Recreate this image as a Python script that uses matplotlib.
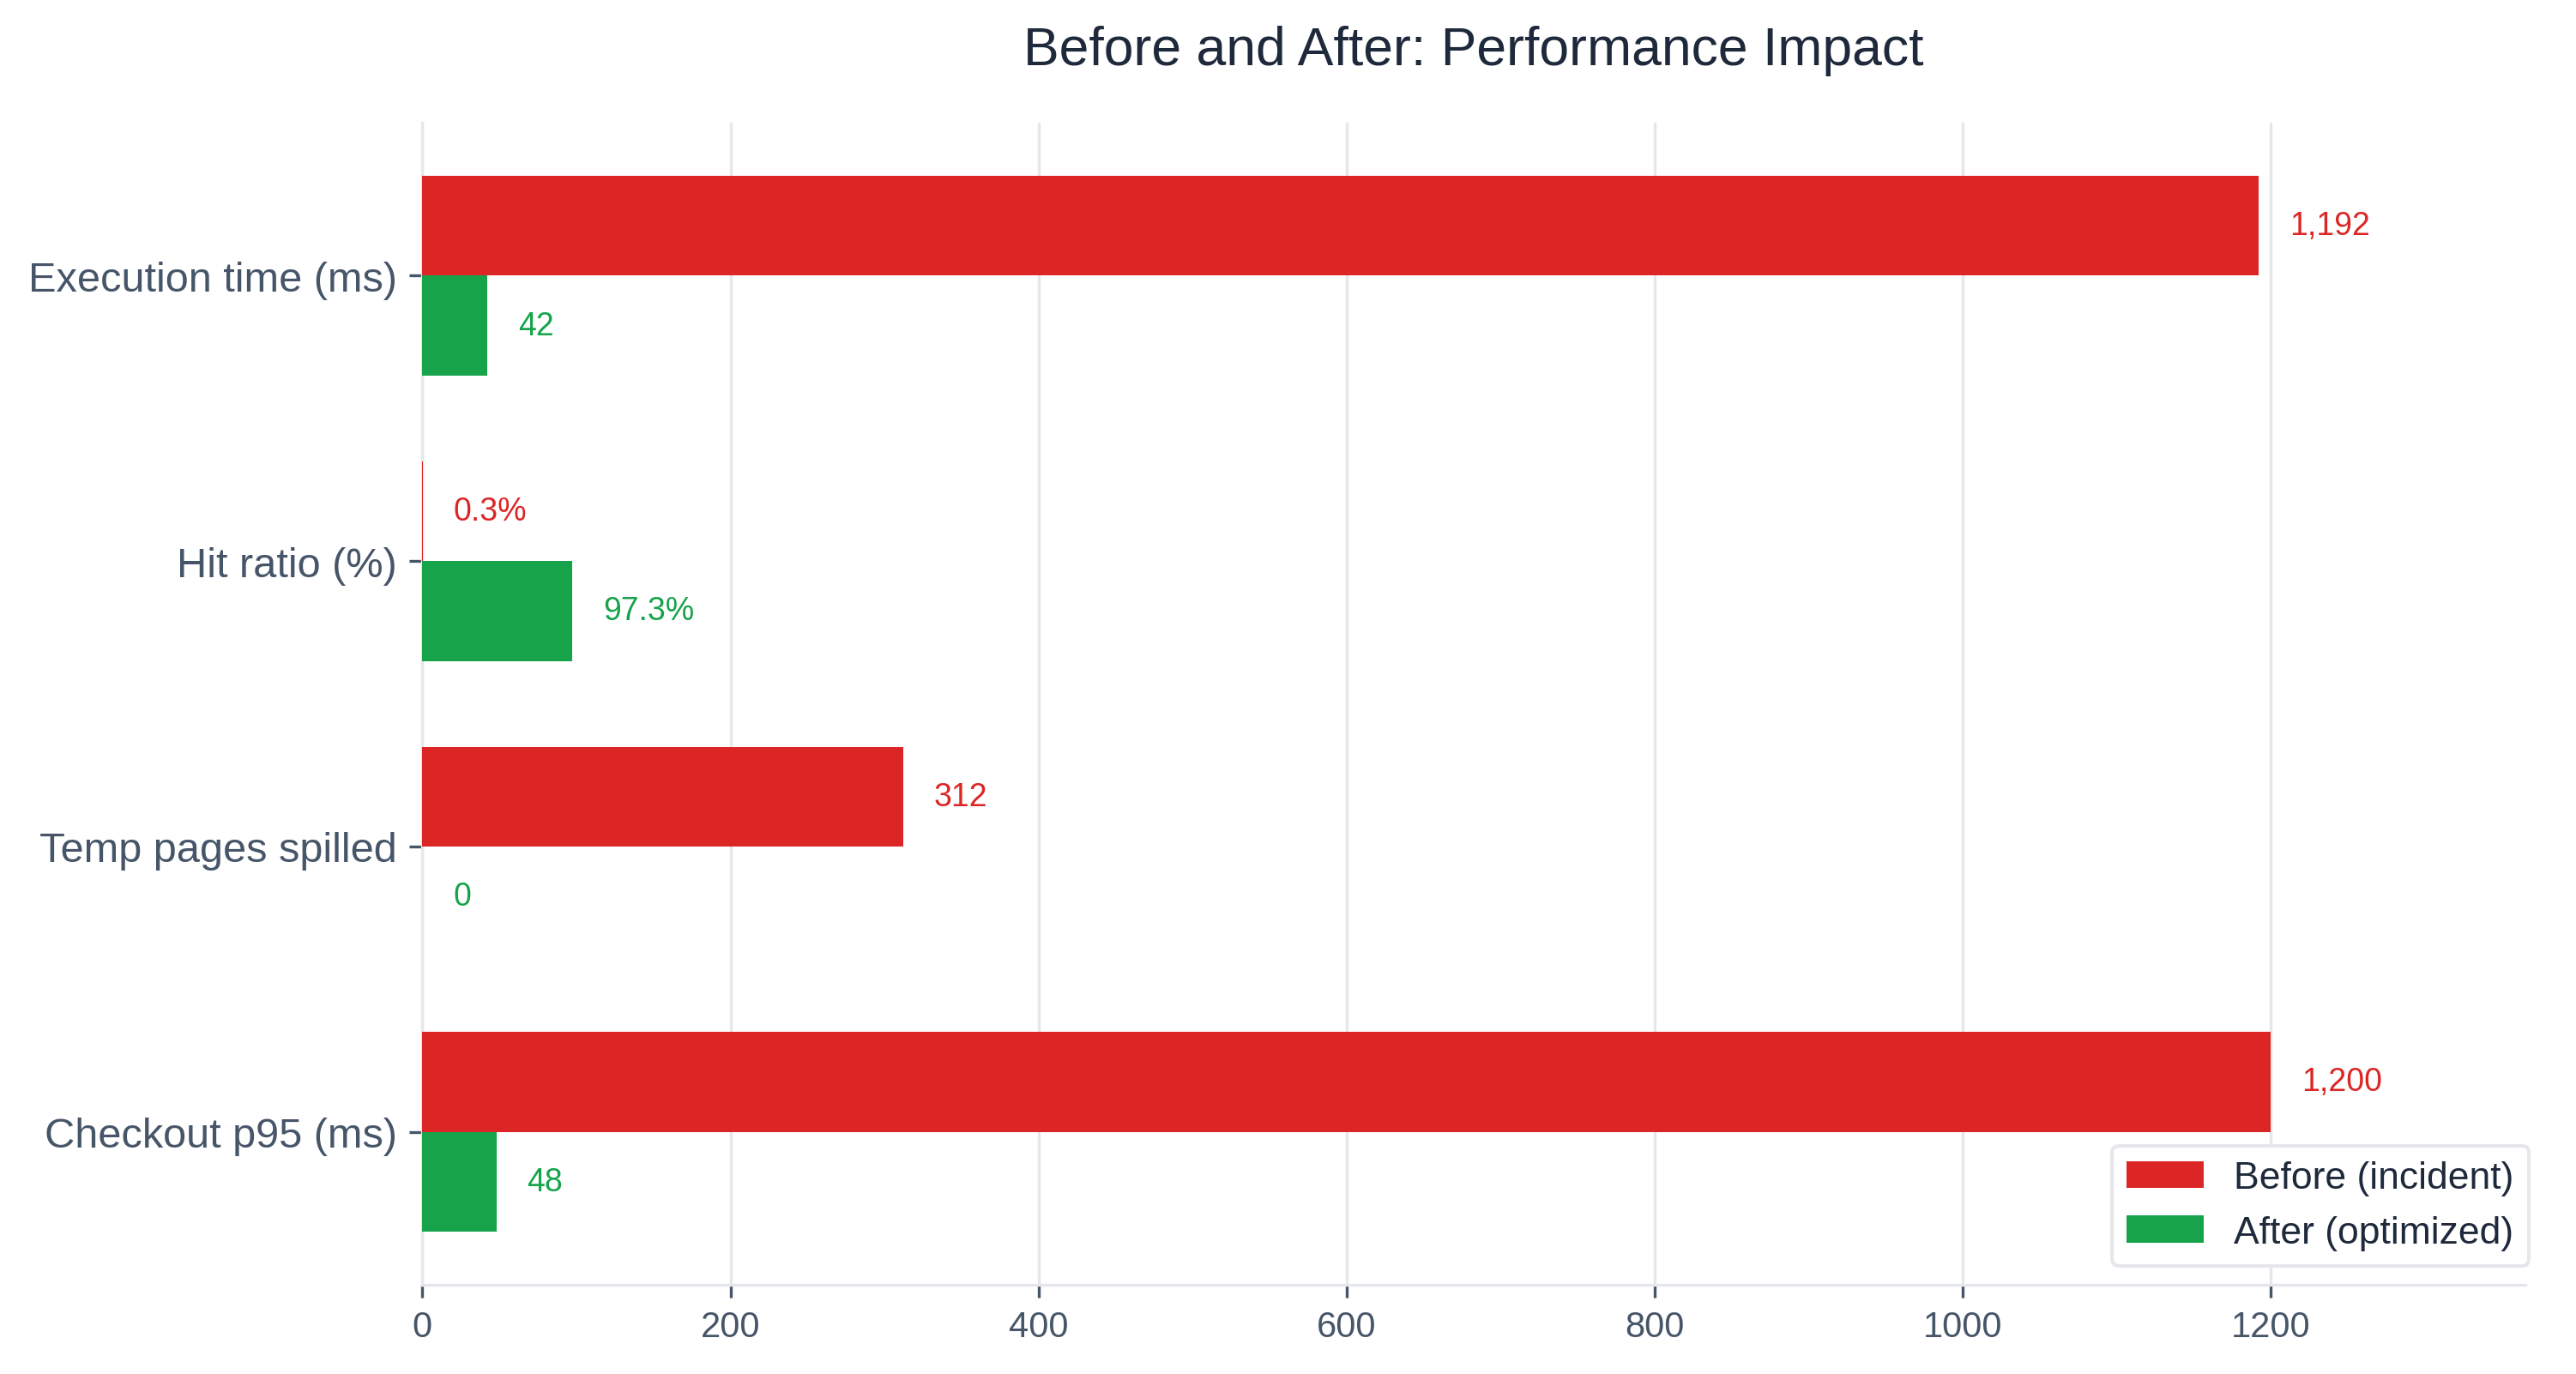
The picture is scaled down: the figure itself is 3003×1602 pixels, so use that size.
import numpy as np
import matplotlib
matplotlib.use("Agg")
import matplotlib.pyplot as plt

plt.rcParams['font.family'] = ['Liberation Sans', 'DejaVu Sans']

metrics = ["Execution time (ms)", "Hit ratio (%)", "Temp pages spilled", "Checkout p95 (ms)"]
before = [1192, 0.3, 312, 1200]
after = [42, 97.3, 0, 48]
is_percent = [False, True, False, False]

red = "#DC2626"
green = "#16A34A"
tick_color = "#475569"
title_color = "#1E293B"
grid_color = "#E5E7EB"

def fmt(v, pct):
    if pct:
        return f"{v:.1f}%"
    return f"{v:,.0f}"

fig, ax = plt.subplots(figsize=(10.013, 5.343), dpi=300)
fig.subplots_adjust(left=0.1639, right=0.980, top=0.910, bottom=0.0650)

y = np.arange(len(metrics))
h = 0.35
ax.barh(y - h / 2, before, height=h, color=red, label="Before (incident)", zorder=3)
ax.barh(y + h / 2, after, height=h, color=green, label="After (optimized)", zorder=3)

offset = 20
for i in range(len(metrics)):
    ax.text(before[i] + offset, y[i] - h / 2, fmt(before[i], is_percent[i]),
            va="center", ha="left", color=red, fontsize=9)
    ax.text(after[i] + offset, y[i] + h / 2, fmt(after[i], is_percent[i]),
            va="center", ha="left", color=green, fontsize=9)

ax.set_yticks(y)
ax.set_yticklabels(metrics, fontsize=11.7, color=tick_color)
ax.invert_yaxis()
ax.set_xlim(0, 1365)
ax.set_xticks([0, 200, 400, 600, 800, 1000, 1200])
ax.tick_params(axis="x", labelsize=10, colors=tick_color, length=3.5, width=0.8)
ax.tick_params(axis="y", colors=tick_color, length=3.5, width=0.8)

ax.grid(axis="x", color=grid_color, linewidth=0.8, zorder=0)
ax.set_axisbelow(True)
for s in ["top", "right"]:
    ax.spines[s].set_visible(False)
for s in ["left", "bottom"]:
    ax.spines[s].set_color(grid_color)
    ax.spines[s].set_linewidth(0.8)

ax.set_title("Before and After: Performance Impact", fontsize=15, color=title_color, pad=16.5)

leg = ax.legend(loc="lower right", bbox_to_anchor=(1.011, 0.0), fontsize=10.7,
                frameon=True, edgecolor=grid_color, fancybox=True, framealpha=1)
for t in leg.get_texts():
    t.set_color(title_color)

fig.savefig("out.png", dpi=300)
